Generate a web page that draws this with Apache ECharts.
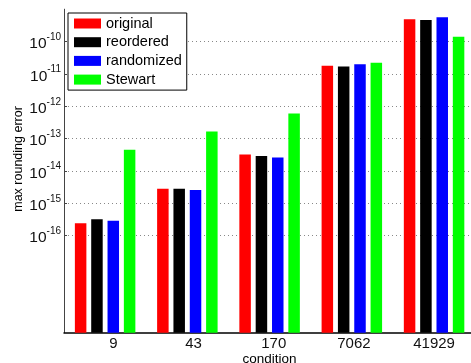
<!DOCTYPE html>
<html>
<head>
<meta charset="utf-8">
<script src="https://cdn.jsdelivr.net/npm/echarts@6/dist/echarts.min.js"></script>
<style>html,body{margin:0;padding:0;background:#fff;}#c{width:471px;height:363px;}</style>
</head>
<body>
<div id="c"></div>
<script>
var categories = ['9', '43', '170', '7062', '41929'];
var seriesNames = ['original', 'reordered', 'randomized', 'Stewart'];
var original   = [2.4e-16, 2.8e-15, 3.2e-14, 1.8e-11, 4.9e-10];
var reordered  = [3.2e-16, 2.8e-15, 2.9e-14, 1.7e-11, 4.6e-10];
var randomized = [2.9e-16, 2.6e-15, 2.6e-14, 2.0e-11, 5.6e-10];
var stewart    = [4.5e-14, 1.66e-13, 6.0e-13, 2.2e-11, 1.4e-10];
var yTicks = [1e-16, 1e-15, 1e-14, 1e-13, 1e-12, 1e-11, 1e-10];
var yMin = 1e-19, yMax = 1e-9;
var colors = ['#ff0000', '#000000', '#0000ff', '#00ff00'];
var values = [original, reordered, randomized, stewart];

var FONT = 'Liberation Sans';
var chart = echarts.init(document.getElementById('c'), null, {renderer: 'canvas'});
var series = seriesNames.map(function (n, i) {
  return {
    name: n, type: 'bar', data: values[i],
    barWidth: 11.5, barGap: '42%',
    itemStyle: {color: colors[i]},
    emphasis: {disabled: true}
  };
});
chart.setOption({
  animation: false,
  grid: {left: 64, right: -4.2, top: 9.2, bottom: 30.3, outerBoundsMode: 'none', containLabel: false},
  legend: {
    data: seriesNames.map(function (n) { return {name: n, icon: 'rect'}; }),
    orient: 'vertical', left: 68, top: 13,
    itemWidth: 27, itemHeight: 10, itemGap: 3.7,
    padding: [3, 5, 3, 6],
    backgroundColor: '#fff', borderColor: '#000', borderWidth: 1,
    selectedMode: false,
    textStyle: {fontFamily: FONT, fontSize: 14.5, color: '#000', lineHeight: 14}
  },
  xAxis: {
    type: 'category', data: categories,
    name: 'condition', nameLocation: 'middle', nameGap: 19.5, nameMoveOverlap: false,
    nameTextStyle: {fontFamily: FONT, fontSize: 13.5, color: '#000'},
    axisLine: {lineStyle: {color: '#000', width: 1.5}},
    axisTick: {inside: true, length: 3, alignWithLabel: true, lineStyle: {color: '#555'}},
    axisLabel: {
      fontFamily: FONT, fontSize: 15, color: '#111', margin: 4,
      formatter: function (v) { return v.padStart(5, ' '); }
    }
  },
  yAxis: {
    type: 'log', logBase: 10, min: yMin, max: yMax, startValue: yMin,
    name: 'max rounding error', nameLocation: 'middle', nameGap: 39, nameMoveOverlap: false,
    nameTextStyle: {fontFamily: FONT, fontSize: 12.5, color: '#000', padding: [0, 0, 0, 24]},
    axisLine: {show: true, lineStyle: {color: '#444', width: 1}},
    axisTick: {show: true, inside: true, length: 3, customValues: yTicks, lineStyle: {color: '#444'}},
    splitLine: {show: true, lineStyle: {color: '#888', type: [1, 3], width: 1}},
    axisLabel: {
      customValues: yTicks, margin: 3, padding: [5, 0, 0, 0],
      formatter: function (v) {
        var e = Math.round(Math.log(v) / Math.LN10);
        return '{b|10}{s|-' + Math.abs(e) + '}';
      },
      rich: {
        b: {fontFamily: FONT, fontSize: 15.5, color: '#111', lineHeight: 16},
        s: {fontFamily: FONT, fontSize: 10, color: '#111', lineHeight: 10, padding: [0, 0, 14, 0]}
      }
    }
  },
  series: series
});
</script>
</body>
</html>
